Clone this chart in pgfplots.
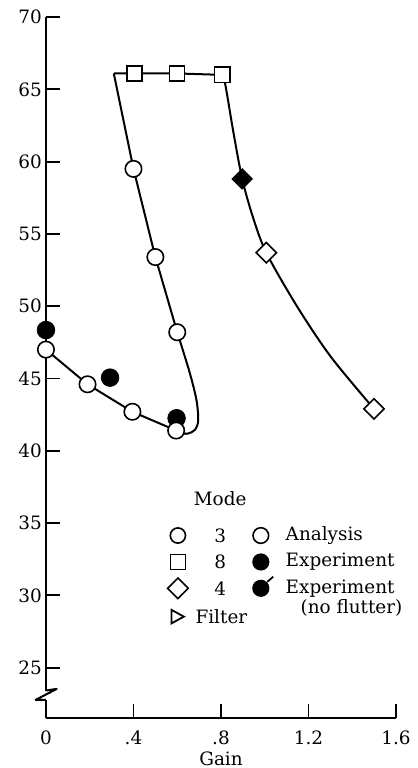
\documentclass[border=0pt]{standalone}
\usepackage{pgfplots}
\pgfplotsset{compat=1.18}
\usetikzlibrary{shapes.geometric}
\usepackage{fontspec}
\setmainfont{DejaVu Serif}
\newcommand{\lf}{\fontsize{9.2}{11}\selectfont}
\begin{document}
\begin{tikzpicture}
\begin{axis}[
    scale only axis,
    width=175pt, height=350.5pt,
    xmin=0, xmax=1.6, ymin=21.5, ymax=70,
    axis x line*=bottom, axis y line*=left,
    axis line style={-, line width=1pt},
    xtick={0,0.4,0.8,1.2,1.6},
    xticklabels={0,.4,.8,1.2,1.6},
    ytick={25,30,...,70},
    tick align=inside,
    major tick length=7pt,
    tick style={line width=0.9pt, black},
    /pgf/number format/assume math mode=true,
    ticklabel style={font=\lf},
    xticklabel style={yshift=-3pt},
    yticklabel style={xshift=1.5pt},
    xlabel={Gain},
    xlabel style={yshift=3.5pt},
    label style={font=\lf},
    clip=false,
    set layers=standard,
]

% locus lines
\addplot[black, line width=1pt] coordinates {
    (0.31,66.1) (0.40,59.5) (0.50,53.4) (0.60,48.2)
};
\addplot[black, line width=1pt, smooth, tension=0.5] coordinates {
    (0.60,48.2) (0.657,45.4) (0.688,43.5) (0.696,42.1) (0.681,41.45) (0.651,41.2) (0.628,41.2) (0.595,41.4)
};
\addplot[black, line width=1pt] coordinates {
    (0.595,41.4) (0.395,42.7) (0.19,44.6) (0.0,47.0)
};
\addplot[black, line width=1pt] coordinates {
    (0.31,66.1) (0.404,66.1) (0.599,66.1) (0.805,66.0)
};
\addplot[black, line width=1pt, smooth, tension=0.5] coordinates {
    (0.805,66.0) (0.82,65.3) (0.857,62.0) (0.897,58.8) (0.945,56.2) (1.007,53.7) (1.147,50.0) (1.302,46.5) (1.499,42.9)
};

% experiment
\addplot[only marks, mark=*, mark size=4.4pt, mark options={fill=black, draw=black}] coordinates {
    (0.0,48.35) (0.293,45.06) (0.597,42.25)
};
\addplot[only marks, mark=square*, mark size=3.6pt, mark options={fill=black, draw=black, rotate=45}] coordinates {
    (0.897,58.8)
};

% analysis
\addplot[only marks, mark=*, mark size=4.1pt, mark options={fill=white, draw=black, line width=0.8pt}] coordinates {
    (0.0,47.0) (0.19,44.6) (0.395,42.7) (0.595,41.4) (0.60,48.2) (0.50,53.4) (0.40,59.5)
};
\addplot[only marks, mark=square*, mark size=3.8pt, mark options={fill=white, draw=black, line width=0.8pt}] coordinates {
    (0.404,66.1) (0.599,66.1) (0.805,66.0)
};
\addplot[only marks, mark=square*, mark size=3.6pt, mark options={fill=white, draw=black, line width=0.8pt, rotate=45}] coordinates {
    (1.007,53.7) (1.499,42.9)
};

% axis break
\begin{pgfonlayer}{axis foreground}
\fill[white] (axis cs:-0.01,22.77) rectangle (axis cs:0.01,23.42);
\draw[line width=1pt, line join=round] (axis cs:0,23.42) -- (axis cs:0.049,23.53) -- (axis cs:-0.047,22.77) -- (axis cs:0,22.77);
\end{pgfonlayer}

% legend
\node[anchor=west, font=\lf, inner sep=0] at (axis cs:0.674,36.71) {Mode};
\node[circle, draw, line width=0.8pt, minimum size=7.6pt, inner sep=0] at (axis cs:0.603,34.14) {};
\node[rectangle, draw, line width=0.8pt, minimum size=7.4pt, inner sep=0] at (axis cs:0.603,32.31) {};
\node[diamond, draw, line width=0.8pt, minimum size=10.6pt, inner sep=0] at (axis cs:0.603,30.49) {};
\node[font=\lf, inner sep=0] at (axis cs:0.796,34.14) {3};
\node[font=\lf, inner sep=0] at (axis cs:0.796,32.31) {8};
\node[font=\lf, inner sep=0] at (axis cs:0.796,30.49) {4};
\node[circle, draw, line width=0.8pt, minimum size=7.8pt, inner sep=0] at (axis cs:0.982,34.14) {};
\node[circle, fill=black, minimum size=8.6pt, inner sep=0] at (axis cs:0.982,32.31) {};
\node[circle, fill=black, minimum size=8.6pt, inner sep=0] (nf) at (axis cs:0.982,30.49) {};
\draw[line width=0.9pt] (nf.45) -- ++(3pt,2.6pt);
\node[anchor=west, font=\lf, inner sep=0] at (axis cs:1.094,34.14) {Analysis};
\node[anchor=west, font=\lf, inner sep=0] at (axis cs:1.094,32.31) {Experiment};
\node[anchor=west, font=\lf, inner sep=0] at (axis cs:1.094,30.49) {Experiment};
\node[anchor=west, font=\lf, inner sep=0] at (axis cs:1.162,29.13) {(no flutter)};
\node[inner sep=0, minimum size=0pt] (tri) at (axis cs:0.601,28.53) {};
\draw[line width=0.9pt, line join=miter] ([shift={(-3pt,-3.4pt)}]tri.center) -- ([shift={(-3pt,3.4pt)}]tri.center) -- ([shift={(3.2pt,0pt)}]tri.center) -- cycle;
\node[anchor=west, font=\lf, inner sep=0] at (axis cs:0.682,28.53) {Filter};

\coordinate (bbsw) at (axis cs:-0.21,18.06);
\coordinate (bbne) at (axis cs:1.696,71.18);
\end{axis}
\pgfresetboundingbox
\path[use as bounding box] (bbsw) rectangle (bbne);
\end{tikzpicture}
\end{document}
